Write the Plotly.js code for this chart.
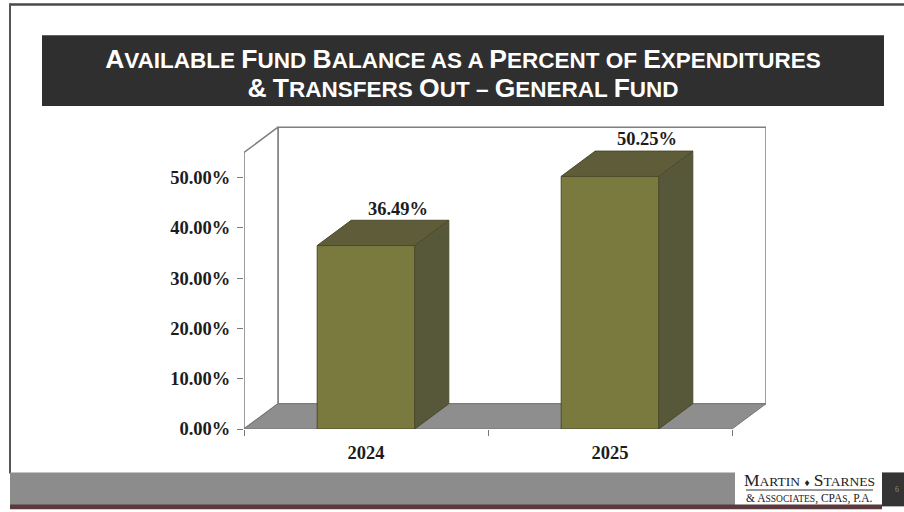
<!DOCTYPE html>
<html>
<head>
<meta charset="utf-8">
<script src="https://cdn.plot.ly/plotly-3.0.1.min.js"></script>
<style>html,body{margin:0;padding:0;background:#fff}#chart{width:904px;height:512px}</style>
</head>
<body>
<div id="chart"></div>
<script>
const categories = ["2024", "2025"];
const percentValues = [36.49, 50.25];
const valueLabels = ["36.49%", "50.25%"];
const yTickValues = [0, 10, 20, 30, 40, 50];
const yTickLabels = ["0.00%", "10.00%", "20.00%", "30.00%", "40.00%", "50.00%"];
const titleLines = ["Available Fund Balance as a Percent of Expenditures", "& Transfers Out \u2013 General Fund"];

const W = 904, H = 512;
const M = {l: 244, r: 138, t: 126, b: 82.5};
const pxPerCat = 244, pxPerPct = 5.036;
const depthX = 34 / pxPerCat, depthY = 25.3 / pxPerPct;
const wallTop = 55, barWidth = 0.4;
const xLo = -0.5, xHi = categories.length - 0.5;
const xRange = [xLo, xHi + depthX];
const yRange = [0, (H - M.t - M.b) / pxPerPct];
const labelShift = [32 / pxPerCat, 37 / pxPerCat];

const serif = "'Liberation Serif', serif";
const bold18 = {family: serif, size: 18.5, color: "#1c1c1c", weight: 700};
const wallLine = {color: "#7f7f7f", width: 1.5};

function smallCaps(s, big) {
  return s.split(" ").map(w => {
    const first = w[0], rest = w.slice(1).toUpperCase();
    const head = /[A-Z&]/.test(first) ? `<span style="font-size:${big}px">${first === "&" ? "&amp;" : first}</span>` : first.toUpperCase();
    return head + rest;
  }).join(" ");
}
function poly(xs, ys, fill, line, axis) {
  return {type: "scatter", mode: "lines", x: xs, y: ys, fill: "toself", fillcolor: fill,
    line: line || {width: 0}, xaxis: axis || "x", yaxis: "y", hoverinfo: "skip", showlegend: false, cliponaxis: false};
}

const traces = [];
// walls and floor
traces.push(poly([xLo + depthX, xHi + depthX, xHi + depthX, xLo + depthX, xLo + depthX],
                 [depthY, depthY, wallTop + depthY, wallTop + depthY, depthY], "#ffffff", wallLine));
traces.push(poly([xLo, xLo + depthX, xLo + depthX, xLo, xLo],
                 [0, depthY, wallTop + depthY, wallTop, 0], "#ffffff", wallLine));
traces.push(poly([xLo, xHi, xHi + depthX, xLo + depthX, xLo],
                 [0, 0, depthY, depthY, 0], "#8e8e8e", {color: "#777777", width: 1}));

// bars: front through bar trace, depth faces from the same values
traces.push({type: "bar", x: categories.map((c, i) => i), y: percentValues, width: barWidth,
  marker: {color: "#7b7a3e", line: {color: "#4b4a2c", width: 1}},
  xaxis: "x2", yaxis: "y", hoverinfo: "skip", showlegend: false});
percentValues.forEach((v, i) => {
  const a = i - barWidth / 2, b = i + barWidth / 2;
  traces.push(poly([a, b, b + depthX, a + depthX, a], [v, v, v + depthY, v + depthY, v],
                   "#5f5d39", {color: "#4b4a2c", width: 1}, "x2"));
  traces.push(poly([b, b + depthX, b + depthX, b, b], [0, depthY, v + depthY, v, 0],
                   "#575739", {color: "#4b4a2c", width: 1}, "x2"));
});
traces.push({type: "scatter", mode: "text", x: percentValues.map((v, i) => i + labelShift[i]),
  y: percentValues.map(v => v + depthY + 0.2), text: valueLabels, textposition: "top center",
  textfont: bold18, xaxis: "x2", yaxis: "y", hoverinfo: "skip", showlegend: false, cliponaxis: false});

function box(x0, y0, x1, y1, color) {
  return {type: "rect", xref: "paper", yref: "paper", x0: (x0 - M.l) / (W - M.l - M.r), x1: (x1 - M.l) / (W - M.l - M.r),
    y0: (H - M.b - y0) / (H - M.t - M.b), y1: (H - M.b - y1) / (H - M.t - M.b),
    fillcolor: color, line: {width: 0}, layer: "below"};
}
const logoFont = {family: serif, color: "#222222"};
function note(text, x, y, size, color) {
  return {text, xref: "paper", yref: "paper", x: (x - M.l) / (W - M.l - M.r), y: (H - M.b - y) / (H - M.t - M.b),
    xanchor: "center", yanchor: "middle", showarrow: false, font: {family: serif, size, color: color || logoFont.color}};
}

const layout = {
  width: W, height: H, margin: M, paper_bgcolor: "#ffffff", plot_bgcolor: "rgba(0,0,0,0)",
  showlegend: false, barmode: "overlay",
  title: {text: titleLines.map(l => smallCaps(l, 26.5)).join("<br>"),
    font: {family: "'Liberation Sans', sans-serif", size: 22.5, color: "#ffffff", weight: 700},
    x: 463 / W, xanchor: "center", xref: "container", y: 1 - 68 / H, yanchor: "middle", yref: "container"},
  xaxis: {range: xRange, tickvals: [-0.5, 0.5, 1.5], ticktext: ["", "", ""], ticks: "outside", ticklen: 6,
    tickcolor: "#777777", tickwidth: 1, showgrid: false, zeroline: false, showline: false, fixedrange: true},
  xaxis2: {range: xRange, overlaying: "x", anchor: "y", side: "bottom", tickvals: categories.map((c, i) => i),
    ticktext: categories, ticks: "", tickfont: bold18, showgrid: false, zeroline: false, showline: false,
    ticklabelstandoff: 10, fixedrange: true},
  yaxis: {range: yRange, tickvals: yTickValues, ticktext: yTickLabels, ticks: "outside", ticklen: 6,
    tickcolor: "#777777", tickwidth: 1, tickfont: bold18, showgrid: false, zeroline: false, showline: false,
    ticklabelstandoff: 3, fixedrange: true},
  shapes: [
    box(10, 3, 904, 5.5, "#4a4a4a"),
    box(9, 3, 11, 474, "#555555"),
    box(42, 35, 884, 106, "#2f2f2f"),
    box(10, 473, 735, 506, "#8c8c8c"),
    box(882, 473, 904, 507, "#343434"),
    box(10, 505, 882, 510, "#5a3a3c"),
    box(746, 490, 873, 491, "#333333")
  ],
  annotations: [
    note(`M<span style="font-size:13.5px">ARTIN</span> <span style="font-size:10px">\u2666</span> S<span style="font-size:13.5px">TARNES</span>`, 809.5, 481, 17.5),
    note(`&amp; A<span style="font-size:9.5px">SSOCIATES</span>, CPA<span style="font-size:9.5px">S</span>, P.A.`, 809.5, 499, 11.5),
    note("6", 897, 490, 8, "#8a8a8a")
  ]
};
Plotly.newPlot("chart", traces, layout, {displayModeBar: false, staticPlot: true});
</script>
</body>
</html>
